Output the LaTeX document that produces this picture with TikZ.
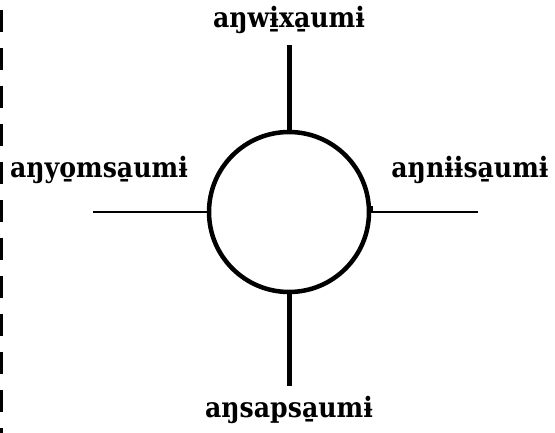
\documentclass[tikz,border=0pt]{standalone}
\usepackage{fontspec}
\setmainfont{DejaVu Serif Condensed}
\begin{document}
\begin{tikzpicture}[x=1pt,y=-1pt,
  lbl/.style={font=\fontsize{28}{33}\selectfont\bfseries, inner sep=0pt},
  thickln/.style={line width=5pt},
  thinln/.style={line width=2.6pt}]
\useasboundingbox (0,0) rectangle (555,433);
\draw[line width=3.4pt, dash pattern=on 22pt off 16pt] (1.7,10) -- (1.7,433);
\node[draw, circle, line width=4.5pt, minimum size=160pt, inner sep=0pt] (c) at (289,212) {};
\node[lbl] (t) at (289,20) {aŋwɨ̱xa̱umɨ};
\node[lbl] (l) at (99,170) {aŋyo̱msa̱umɨ};
\node[lbl] (r) at (470,170) {aŋnɨɨsa̱umɨ};
\node[lbl] (b) at (289,410) {aŋsapsa̱umɨ};
\coordinate (te) at (289,45);
\coordinate (be) at (289,386);
\coordinate (le) at (93,212);
\coordinate (re) at (478,212);
\coordinate (tk) at (372,206);
\draw[thickln] (te) -- (c.north);
\draw[thickln] (c.south) -- (be);
\draw[thinln] (le) -- (c.west);
\draw[thinln] (c.east) -- (re);
\draw[line width=1.5pt] (tk) -- (c.east -| tk);
\end{tikzpicture}
\end{document}
